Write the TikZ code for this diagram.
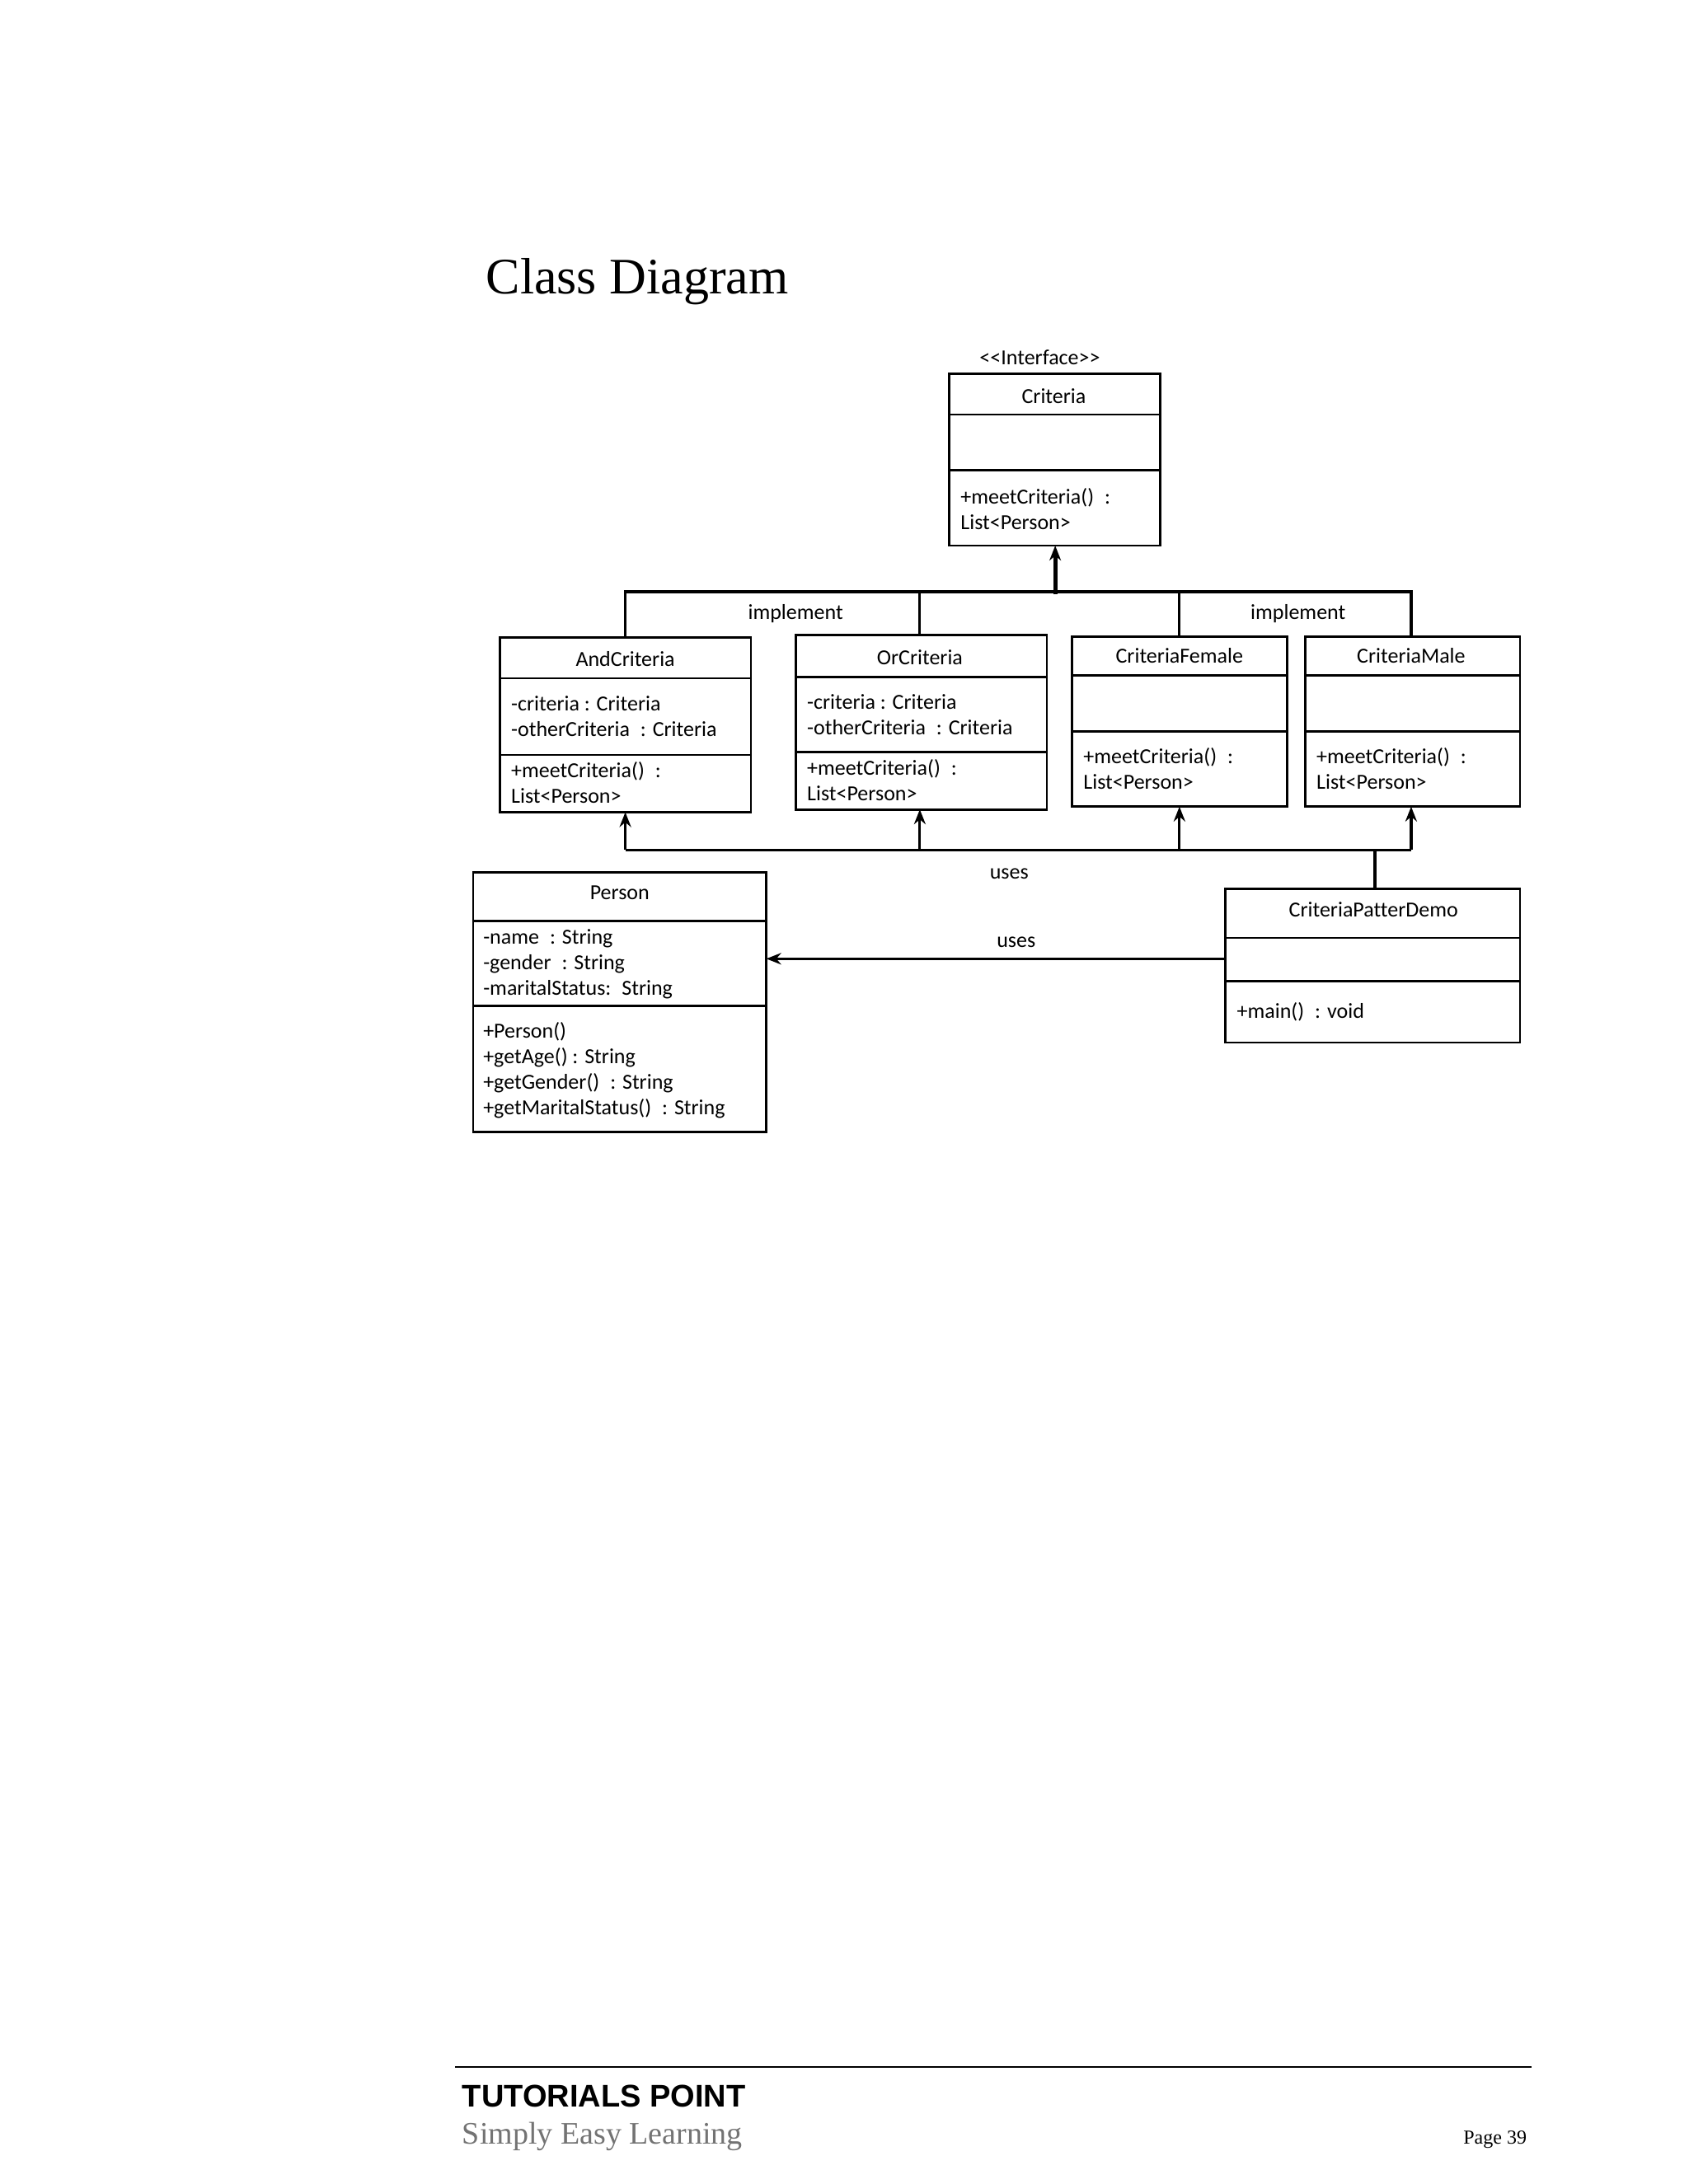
\documentclass[tikz,border=0pt]{standalone}
\usepackage{fontspec}
\setmainfont{Carlito}[Ligatures=NoCommon]
\newfontfamily\titlefont{Liberation Serif}
\newfontfamily\headfont{Liberation Sans}
\usetikzlibrary{arrows.meta}
\begin{document}
\begin{tikzpicture}[x=0.8463pt,y=-0.8463pt,
  box/.style={draw,line width=1.4pt},
  lbl/.style={inner sep=0pt,font=\fontsize{13}{15.5}\selectfont},
  ll/.style={lbl,anchor=west,align=left},
  conn/.style={line width=1.6pt},
  arr/.style={conn,-{Stealth[length=9pt,width=7pt]}}]
\useasboundingbox[fill=white] (0,0) rectangle (1210,1565);
\node[anchor=west,inner sep=0pt,font=\titlefont\fontsize{31}{36}\selectfont] (title) at (348,202) {Class Diagram};
% Criteria
\draw[box] (680,268) rectangle (831,391); \draw[box] (680,297)--(831,297) (680,337)--(831,337);
\node[lbl] (st) at (745,256) {{<}{<}Interface{>}{>}};
\node[lbl] (crit) at (755,284) {Criteria};
\node[ll] (critm) at (688,365) {+meetCriteria()\enspace:\\List{<}Person{>}};
\coordinate (critb) at (756,391);
% And
\draw[box] (358,457) rectangle (538,582); \draw[box] (358,486)--(538,486) (358,541)--(538,541);
\node[lbl] (and) at (448,472) {AndCriteria};
\node[ll] (anda) at (366,513) {-criteria : Criteria\\-otherCriteria\enspace : Criteria};
\node[ll] (andm) at (366,561) {+meetCriteria()\enspace:\\List{<}Person{>}};
% Or
\draw[box] (570,455) rectangle (750,580); \draw[box] (570,485)--(750,485) (570,539)--(750,539);
\node[lbl] (or) at (659,471) {OrCriteria};
\node[ll] (ora) at (578,512) {-criteria : Criteria\\-otherCriteria\enspace : Criteria};
\node[ll] (orm) at (578,559) {+meetCriteria()\enspace:\\List{<}Person{>}};
% Female
\draw[box] (768,456) rectangle (922,578); \draw[box] (768,484)--(922,484) (768,524)--(922,524);
\node[lbl] (fem) at (845,470) {CriteriaFemale};
\node[ll] (femm) at (776,551) {+meetCriteria()\enspace:\\List{<}Person{>}};
% Male
\draw[box] (935,456) rectangle (1089,578); \draw[box] (935,484)--(1089,484) (935,524)--(1089,524);
\node[lbl] (male) at (1011,470) {CriteriaMale};
\node[ll] (malem) at (943,551) {+meetCriteria()\enspace:\\List{<}Person{>}};
% Person
\draw[box] (339,625) rectangle (549,811); \draw[box] (339,660)--(549,660) (339,721)--(549,721);
\node[lbl] (per) at (444,640) {Person};
\node[ll] (pera) at (346,691) {-name\enspace: String\\-gender\enspace: String\\-maritalStatus:\enspace String};
\node[ll] (perm) at (346,767) {+Person()\\+getAge() : String\\+getGender()\enspace : String\\+getMaritalStatus()\enspace : String};
% Demo
\draw[box] (878,637) rectangle (1089,747); \draw[box] (878,672)--(1089,672) (878,703)--(1089,703);
\node[lbl] (demo) at (984,652) {CriteriaPatterDemo};
\node[ll] (demom) at (886,725) {+main()\enspace: void};
% implement bus
\draw[conn] (448,457)--(448,424)--(1011,424)--(1011,456);
\draw[conn] (659,455)--(659,424) (845,456)--(845,424);
\draw[arr,line width=2.6pt] (756,426)--(critb);
\node[lbl] (impl1) at (570,440) {implement};
\node[lbl] (impl2) at (930,440) {implement};
% uses bus
\draw[conn] (448,609)--(1011,609) (985,609)--(985,637);
\draw[arr] (448,609)--(448,582);
\draw[arr] (659,609)--(659,580);
\draw[arr] (845,609)--(845,578);
\draw[arr] (1011,609)--(1011,578);
\node[lbl] (uses1) at (723,626) {uses};
\draw[arr] (878,687)--(549,687);
\node[lbl] (uses2) at (728,675) {uses};
% footer
\draw[line width=1pt] (326,1481)--(1097,1481);
\node[anchor=west,inner sep=0pt,font=\headfont\bfseries\fontsize{19}{22}\selectfont] (tp) at (331,1502) {TUTORIALS POINT};
\node[anchor=west,inner sep=0pt,text=black!55,font=\titlefont\fontsize{19}{22}\selectfont] (sel) at (331,1531) {Simply Easy Learning};
\node[anchor=east,inner sep=0pt,font=\titlefont\fontsize{12}{14}\selectfont] (pg) at (1094,1533) {Page 39};
\end{tikzpicture}
\end{document}
